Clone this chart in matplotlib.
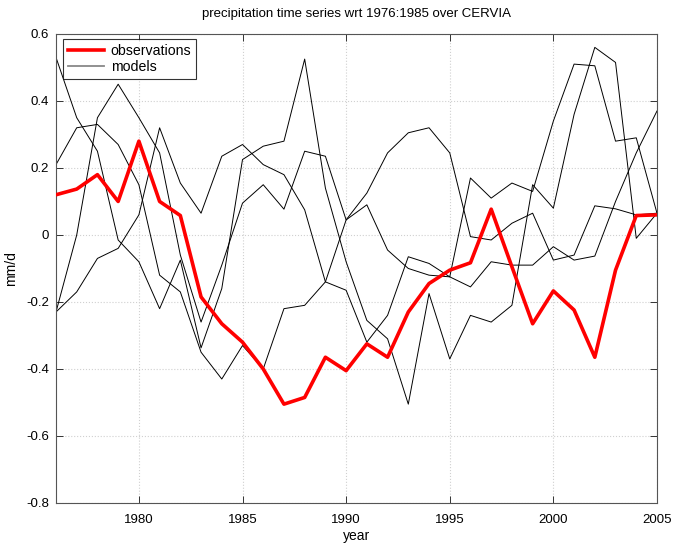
import matplotlib
matplotlib.use("Agg")
import matplotlib.pyplot as plt
from matplotlib.ticker import FuncFormatter

plt.rcParams['font.family'] = ['Liberation Sans', 'DejaVu Sans']
plt.rcParams['axes.unicode_minus'] = False

years = list(range(1976, 2006))

# observed anomalies (red)
observations = [0.12, 0.137, 0.18, 0.10, 0.28, 0.10, 0.058, -0.185, -0.265, -0.32,
                -0.40, -0.505, -0.485, -0.365, -0.405, -0.325, -0.365, -0.23, -0.145, -0.105,
                -0.083, 0.077, -0.095, -0.265, -0.167, -0.224, -0.365, -0.105, 0.058, 0.06]

# model runs (black)
model1 = [0.53, 0.35, 0.25, -0.015, -0.08, -0.22, -0.075, -0.337, -0.16, 0.225,
          0.265, 0.28, 0.525, 0.14, -0.08, -0.255, -0.31, -0.505, -0.175, -0.37,
          -0.24, -0.26, -0.21, 0.15, 0.08, 0.36, 0.56, 0.515, -0.01, 0.065]
model2 = [0.21, 0.32, 0.33, 0.27, 0.15, -0.12, -0.17, -0.35, -0.43, -0.33,
          -0.40, -0.22, -0.21, -0.14, 0.045, 0.125, 0.245, 0.305, 0.32, 0.245,
          -0.005, -0.015, 0.035, 0.065, -0.075, -0.06, 0.087, 0.078, 0.06, 0.065]
model3 = [-0.23, 0.0, 0.35, 0.45, 0.35, 0.245, -0.06, -0.26, -0.09, 0.095,
          0.15, 0.077, 0.25, 0.235, 0.045, 0.09, -0.045, -0.10, -0.12, -0.125,
          0.17, 0.11, 0.155, 0.13, 0.34, 0.51, 0.505, 0.28, 0.29, 0.065]
model4 = [-0.23, -0.17, -0.07, -0.04, 0.06, 0.32, 0.155, 0.065, 0.235, 0.27,
          0.21, 0.18, 0.075, -0.14, -0.165, -0.32, -0.24, -0.065, -0.085, -0.125,
          -0.155, -0.08, -0.09, -0.09, -0.035, -0.075, -0.063, 0.10, 0.245, 0.37]
models = [model1, model2, model3, model4]

fig = plt.figure(figsize=(6.73, 5.46), dpi=100)
ax = fig.add_axes([0.0832, 0.0788, 0.893, 0.859])

for i, m in enumerate(models):
    ax.plot(years, m, color='black', linewidth=0.7,
            label='models' if i == 0 else None, zorder=2)
ax.plot(years, observations, color='red', linewidth=2.6, label='observations', zorder=3)

ax.set_xlim(1976, 2005)
ax.set_ylim(-0.8, 0.6)
ax.set_xticks([1980, 1985, 1990, 1995, 2000, 2005])
ax.set_yticks([-0.8, -0.6, -0.4, -0.2, 0, 0.2, 0.4, 0.6])
ax.yaxis.set_major_formatter(FuncFormatter(lambda v, p: '%g' % round(v, 2)))
ax.grid(True, color='#d0d0d0', linestyle=':', linewidth=0.8)
ax.tick_params(direction='in', top=True, right=True, length=5, width=0.7,
               labelsize=9.5, colors='#333333', labelcolor='black')
ax.tick_params(axis='x', pad=8)
ax.tick_params(axis='y', pad=5)
for s in ax.spines.values():
    s.set_color('#555555')
    s.set_linewidth(0.8)

ax.set_title('precipitation time series wrt 1976:1985 over CERVIA', fontsize=9.5, pad=12)
ax.set_xlabel('year', fontsize=10, labelpad=2)
ax.set_ylabel('mm/d', fontsize=10, labelpad=6)

handles, labels = ax.get_legend_handles_labels()
order = [labels.index('observations'), labels.index('models')]
leg = ax.legend([handles[k] for k in order], [labels[k] for k in order],
                loc='upper left', fontsize=10.2, frameon=True, fancybox=False,
                bbox_to_anchor=(0.011, 0.99), borderaxespad=0.0,
                handlelength=2.6, handletextpad=0.45, borderpad=0.35, labelspacing=0.15)
leg.get_frame().set_edgecolor('black')
leg.get_frame().set_linewidth(0.8)
leg.legend_handles[1].set_color('#888888')
leg.legend_handles[1].set_linewidth(1.3)

fig.savefig('out.png', dpi=100)
